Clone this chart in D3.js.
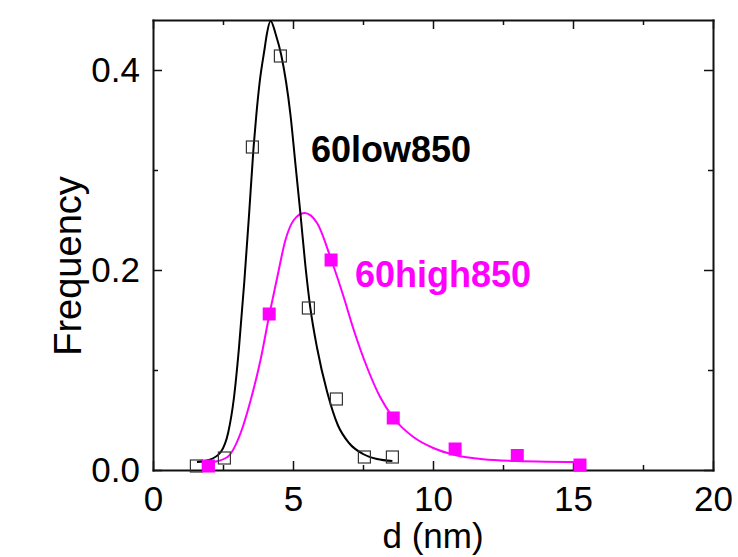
<!DOCTYPE html>
<html>
<head>
<meta charset="utf-8">
<script src="https://cdn.jsdelivr.net/npm/d3@7"></script>
<style>
  html, body { margin: 0; padding: 0; background: #fff; }
  text { font-family: "Liberation Sans", Arial, sans-serif; }
</style>
</head>
<body>
<div id="viz"></div>
<script>
// measured points (open squares, 60low850)
const lowX = [1.55, 2.55, 3.55, 4.55, 5.55, 6.55, 7.55, 8.55];
const lowY = [0.004, 0.012, 0.323, 0.414, 0.162, 0.071, 0.013, 0.013];

// measured points (filled squares, 60high850)
const highX = [1.98, 4.15, 6.36, 8.58, 10.79, 13.01, 15.25];
const highY = [0.004, 0.156, 0.21, 0.052, 0.021, 0.0145, 0.005];

// fitted curves
const lowFitX = [1.57, 2.0, 2.42, 2.69, 2.89, 3.07, 3.26, 3.43, 3.59, 3.69, 3.81, 3.99, 4.06, 4.20, 4.39, 4.58, 4.91, 5.09, 5.27, 5.44, 5.62, 5.86, 6.22, 6.6, 7.0, 7.5, 8.0, 8.55];
const lowFitY = [0.008, 0.010, 0.018, 0.038, 0.072, 0.122, 0.188, 0.255, 0.322, 0.355, 0.388, 0.422, 0.435, 0.449, 0.435, 0.415, 0.355, 0.305, 0.255, 0.205, 0.162, 0.122, 0.078, 0.045, 0.027, 0.016, 0.011, 0.009];

const highFitX = [1.85, 2.06, 2.66, 3.13, 3.49, 3.84, 4.16, 4.44, 4.73, 5.03, 5.41, 5.86, 6.37, 6.81, 7.17, 7.64, 8.11, 8.59, 9.3, 10.01, 10.78, 11.79, 12.97, 14.04, 15.2];
const highFitY = [0.005, 0.007, 0.013, 0.037, 0.07, 0.11, 0.156, 0.193, 0.23, 0.25, 0.257, 0.247, 0.21, 0.173, 0.14, 0.103, 0.073, 0.052, 0.033, 0.022, 0.015, 0.0107, 0.009, 0.0083, 0.008];

const xMajor = [0, 5, 10, 15, 20];
const xMinor = [2.5, 7.5, 12.5, 17.5];
const yMajor = [0, 0.2, 0.4];
const yMinor = [0.1, 0.3];

const width = 738;
const height = 557;
const margin = { left: 153, right: 25, top: 20, bottom: 87 };
const MAGENTA = '#ff00ff';

const x = d3.scaleLinear().domain([0, 20]).range([margin.left, width - margin.right]);
const y = d3.scaleLinear().domain([0, 0.45]).range([height - margin.bottom, margin.top]);

const svg = d3
  .select('#viz')
  .append('svg')
  .attr('width', width)
  .attr('height', height);

// axes on all four sides, ticks pointing inward
const fmtY = d3.format('.1f');
const axisStyle = g => {
  g.select('.domain').attr('stroke', '#111').attr('stroke-width', 2);
  g.selectAll('.tick line').attr('stroke', '#111').attr('stroke-width', 1.5);
};

const gBottom = svg.append('g').attr('transform', `translate(0,${y(0)})`);
gBottom.call(d3.axisBottom(x).tickValues(xMajor).tickSize(-9).tickSizeOuter(0).tickPadding(16).tickFormat(d3.format('d')));
gBottom.append('g').call(d3.axisBottom(x).tickValues(xMinor).tickSize(-5).tickFormat('')).select('.domain').remove();
gBottom.selectAll('text').attr('font-size', 35).attr('fill', '#000');
axisStyle(gBottom);

const gTop = svg.append('g').attr('transform', `translate(0,${y(0.45)})`);
gTop.call(d3.axisTop(x).tickValues(xMajor).tickSize(-9).tickSizeOuter(0).tickFormat(''));
gTop.append('g').call(d3.axisTop(x).tickValues(xMinor).tickSize(-5).tickFormat('')).select('.domain').remove();
axisStyle(gTop);

const gLeft = svg.append('g').attr('transform', `translate(${x(0)},0)`);
gLeft.call(d3.axisLeft(y).tickValues(yMajor).tickSize(-9).tickSizeOuter(0).tickPadding(13).tickFormat(fmtY));
gLeft.append('g').call(d3.axisLeft(y).tickValues(yMinor).tickSize(-5).tickFormat('')).select('.domain').remove();
gLeft.selectAll('text').attr('font-size', 35).attr('fill', '#000');
axisStyle(gLeft);

const gRight = svg.append('g').attr('transform', `translate(${x(20)},0)`);
gRight.call(d3.axisRight(y).tickValues(yMajor).tickSize(-9).tickSizeOuter(0).tickFormat(''));
gRight.append('g').call(d3.axisRight(y).tickValues(yMinor).tickSize(-5).tickFormat('')).select('.domain').remove();
axisStyle(gRight);

svg.selectAll('.domain').attr('stroke-linecap', 'square');

// fitted curves
const line = d3
  .line()
  .x(d => x(d[0]))
  .y(d => y(d[1]))
  .curve(d3.curveMonotoneX);

svg.append('path')
  .datum(d3.zip(highFitX, highFitY))
  .attr('d', line)
  .attr('fill', 'none')
  .attr('stroke', MAGENTA)
  .attr('stroke-width', 2);

svg.append('path')
  .datum(d3.zip(lowFitX, lowFitY))
  .attr('d', line)
  .attr('fill', 'none')
  .attr('stroke', '#000')
  .attr('stroke-width', 2);

// markers
const S_OPEN = 12;
const S_FILL = 13;

svg.append('g')
  .selectAll('rect')
  .data(d3.zip(lowX, lowY))
  .enter()
  .append('rect')
  .attr('x', d => x(d[0]) - S_OPEN / 2)
  .attr('y', d => y(d[1]) - S_OPEN / 2)
  .attr('width', S_OPEN)
  .attr('height', S_OPEN)
  .attr('fill', 'none')
  .attr('stroke', '#333')
  .attr('stroke-width', 1.2);

svg.append('g')
  .selectAll('rect')
  .data(d3.zip(highX, highY))
  .enter()
  .append('rect')
  .attr('x', d => x(d[0]) - S_FILL / 2)
  .attr('y', d => y(d[1]) - S_FILL / 2)
  .attr('width', S_FILL)
  .attr('height', S_FILL)
  .attr('fill', MAGENTA);

// series labels
svg.append('text')
  .attr('x', 311)
  .attr('y', 162)
  .attr('font-size', 36)
  .attr('font-weight', 'bold')
  .attr('fill', '#000')
  .text('60low850');

svg.append('text')
  .attr('x', 355)
  .attr('y', 287)
  .attr('font-size', 36)
  .attr('font-weight', 'bold')
  .attr('fill', MAGENTA)
  .text('60high850');

// axis titles
svg.append('text')
  .attr('x', (x(0) + x(20)) / 2)
  .attr('y', 548)
  .attr('text-anchor', 'middle')
  .attr('font-size', 35)
  .attr('fill', '#000')
  .text('d (nm)');

svg.append('text')
  .attr('transform', `translate(81,${(y(0) + y(0.45)) / 2 + 21}) rotate(-90)`)
  .attr('text-anchor', 'middle')
  .attr('font-size', 38)
  .attr('fill', '#000')
  .text('Frequency');
</script>
</body>
</html>
